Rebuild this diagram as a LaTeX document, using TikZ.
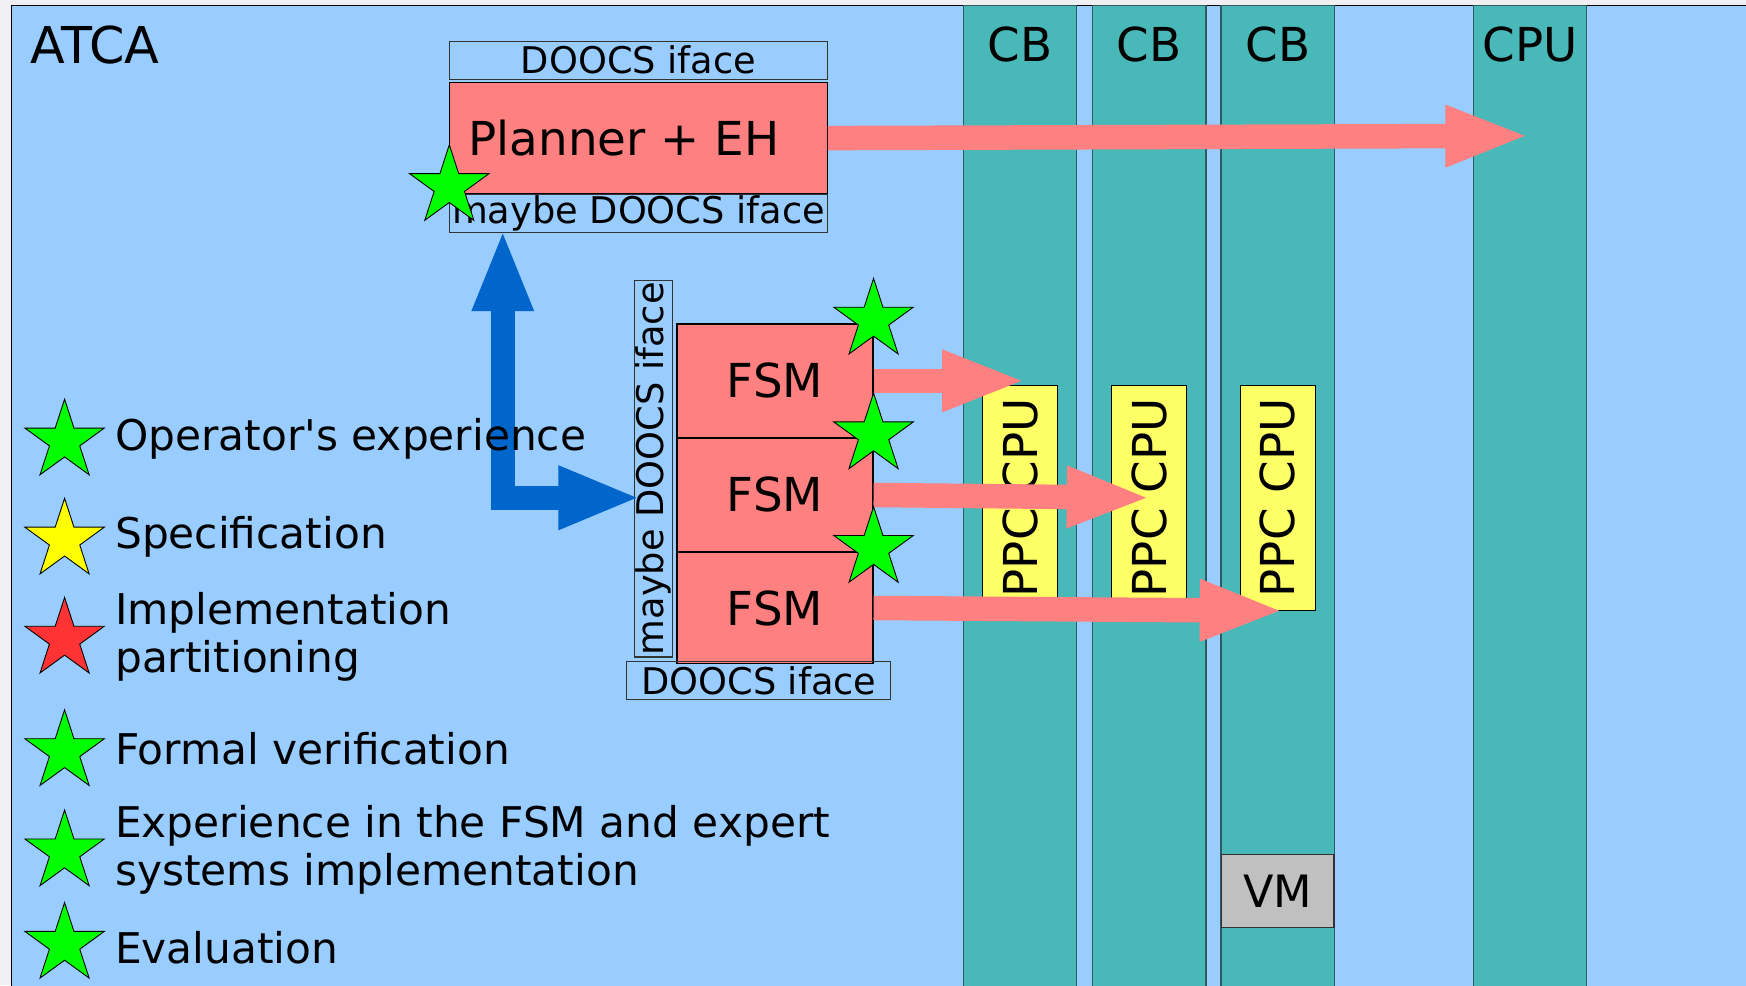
\documentclass[tikz,border=0pt]{standalone}
\usepackage{graphicx}
\usepackage{fontspec}
\setmainfont{DejaVu Sans}[Ligatures=TeXOff]
\usetikzlibrary{positioning,shapes.geometric,arrows.meta}

\definecolor{pagebg}{HTML}{F0F0F4}
\definecolor{atcabg}{HTML}{99CCFF}
\definecolor{boardfill}{HTML}{48B8B8}
\definecolor{boardline}{HTML}{2E5C5C}
\definecolor{blockred}{HTML}{FF8080}
\definecolor{ppcyellow}{HTML}{FFFF66}
\definecolor{vmgray}{HTML}{C0C0C0}
\definecolor{linkblue}{HTML}{0066CC}
\definecolor{stargreen}{HTML}{00FF00}
\definecolor{staryellow}{HTML}{FFFF00}
\definecolor{starred}{HTML}{FF3333}

\tikzset{
  bigtext/.style={font=\fontsize{21}{24}\selectfont},
  ifacetext/.style={font=\fontsize{16.5}{18}\selectfont},
  legtext/.style={font=\fontsize{19}{21.5}\selectfont, align=left, inner sep=0pt, anchor=west},
  board/.style={draw=boardline, fill=boardfill, line width=0.5pt},
  iface/.style={draw=black!80, line width=0.5pt, inner sep=0pt, ifacetext},
  block/.style={draw=black, fill=blockred, line width=0.5pt, inner sep=0pt, bigtext},
  ppcbox/.style={draw=black, fill=ppcyellow, line width=0.5pt, inner sep=0pt,
    minimum width=33.5pt, minimum height=101pt, bigtext},
  gstar/.style={shape=star, star points=5, star point ratio=2.618, minimum size=37.5pt,
    inner sep=0pt, draw=black, line width=0.4pt, fill=stargreen},
  redarrow/.style={draw=blockred, line width=11pt, shorten >=-3pt,
    -{Triangle[length=38pt,width=25pt]}},
  bluearrow/.style={draw=linkblue, line width=11pt, shorten >=-3pt, shorten <=-2pt,
    {Triangle[length=37pt,width=25pt]}-{Triangle[length=37pt,width=26pt]}}
}

\begin{document}
\begin{tikzpicture}[x=0.5pt, y=-0.5pt]
\useasboundingbox (0,0) rectangle (1568,885);
\fill[pagebg] (0,0) rectangle (1568,885);
\filldraw[fill=atcabg, draw=black, line width=0.5pt] (10,5) rectangle (1590,900);
\node[font=\fontsize{22.8}{26}\selectfont, anchor=west, inner sep=0pt] (atca) at (27,40) {ATCA};

% carrier boards
\foreach \cx/\n in {916/1, 1032/2, 1147.5/3}{
  \draw[board] (\cx-51,5) rectangle (\cx+51,900);
  \node[bigtext] (cb\n) at (\cx,40) {CB};
  \node[ppcbox] (ppc\n) at (\cx,447) {\rotatebox{90}{PPC CPU}};
}
\draw[board] (1323,5) rectangle (1425,900);
\node[bigtext] (cpu) at (1374,40) {CPU};
\node[draw=black!80, fill=vmgray, line width=0.5pt, minimum width=50.5pt,
  minimum height=33pt, inner sep=0pt, font=\fontsize{20}{22}\selectfont] (vm) at (1147.5,800) {VM};

% planner
\node[iface, minimum width=169.5pt, minimum height=17pt] (ptop) at (573.5,54) {DOOCS iface};
\node[block, minimum width=169.5pt, minimum height=50pt, below=1pt of ptop] (planner) {Planner + EH\kern13pt};
\node[iface, minimum width=169.5pt, minimum height=17pt, below=0pt of planner] (pmaybe) {maybe DOOCS iface};

% state machines
\node[iface, minimum width=17pt, minimum height=169pt] (fmaybe) at (587,421) {\rotatebox{90}{maybe DOOCS iface}};
\node[block, minimum width=88pt, minimum height=51pt] (fsm1) at (696,342) {FSM};
\node[block, minimum width=88pt, minimum height=50.5pt, below=0pt of fsm1] (fsm2) {FSM};
\node[block, minimum width=88pt, minimum height=50pt, below=0pt of fsm2] (fsm3) {FSM};
\node[iface, minimum width=118.5pt, minimum height=17pt] (fiface) at (681.5,611) {DOOCS iface};

% links
\coordinate (cputip) at (1368,122);
\draw[redarrow] (planner.east) -- (cputip);
\draw[redarrow] (fsm1.east) -- (fsm1.east -| ppc1);
\draw[redarrow] (fsm2.east) -- ([xshift=-2pt]ppc2.center);
\draw[redarrow] (fsm3.east) -- (ppc3.south);
\draw[bluearrow] ([xshift=24pt]pmaybe.south west) |- ([yshift=-13pt]fmaybe.west);

\node[gstar] (pstar) at ([yshift=3.5pt]planner.south west) {};
\foreach \n in {1,2,3}
  \node[gstar] (fstar\n) at ([yshift=1.5pt]fsm\n.north east) {};

% legend
\node[gstar] (ls1) at (58,396) {};
\node[gstar, fill=staryellow] (ls2) at (58,485) {};
\node[gstar, fill=starred] (ls3) at (58,574) {};
\node[gstar] (ls4) at (58,675) {};
\node[gstar] (ls5) at (58,765) {};
\node[gstar] (ls6) at (58,848) {};
\node[legtext] (opexp) at (103,394) {Operator's experience};
\node[legtext] (spec) at (103,482) {Specification};
\node[legtext] (impl) at (103,572) {Implementation\\partitioning};
\node[legtext] (formal) at (103,672) {Formal verification};
\node[legtext] (fsmexp) at (103,763) {Experience in the FSM and expert\\systems implementation};
\node[legtext] (eval) at (103,851) {Evaluation};
\end{tikzpicture}
\end{document}
